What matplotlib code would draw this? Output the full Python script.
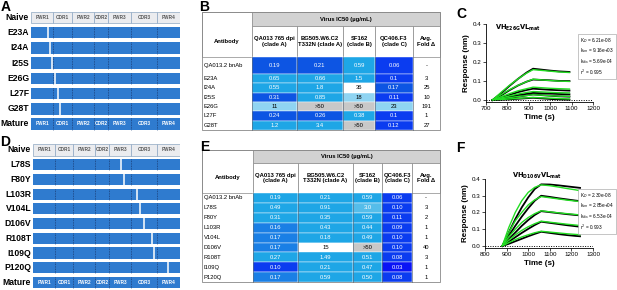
import numpy as np
import matplotlib
matplotlib.use('Agg')
import matplotlib.pyplot as plt
from matplotlib.colors import ListedColormap, BoundaryNorm, to_rgb
from matplotlib.patches import Rectangle

plt.rcParams['font.family'] = ['Liberation Sans', 'DejaVu Sans']

# ---- data ----
segments = ['FWR1', 'CDR1', 'FWR2', 'CDR2', 'FWR3', 'CDR3', 'FWR4']
seg_edges = [0, 15, 27.5, 42.5, 51.5, 67, 84.5, 100]   # % of VH length

mut_a = ['E23A', 'I24A', 'I25S', 'E26G', 'L27F', 'G28T']
pos_a = [11.4, 12.8, 14.1, 16.1, 18.1, 19.5]
mut_d = ['L78S', 'F80Y', 'L103R', 'V104L', 'D106V', 'R108T', 'I109Q', 'P120Q']
pos_d = [59.9, 61.9, 70.7, 72.8, 75.5, 81.0, 82.3, 91.8]

viruses = ['QA013 765 dpi\n(clade A)', 'BG505.W6.C2\nT332N (clade A)',
           'SF162\n(clade B)', 'QC406.F3\n(clade C)']

rows_b = ['QA013.2 bnAb'] + mut_a
ic50_b = [['0.19', '0.21', '0.59', '0.06'],
          ['0.65', '0.66', '1.5', '0.1'],
          ['0.55', '1.8', '36', '0.17'],
          ['0.31', '0.85', '18', '0.11'],
          ['11', '>50', '>50', '23'],
          ['0.24', '0.26', '0.38', '0.1'],
          ['1.2', '3.4', '>50', '0.12']]
fold_b = ['-', '3', '25', '10', '191', '1', '27']

rows_e = ['QA013.2 bnAb'] + mut_d
ic50_e = [['0.19', '0.21', '0.59', '0.06'],
          ['0.49', '0.91', '3.0', '0.10'],
          ['0.31', '0.35', '0.59', '0.11'],
          ['0.16', '0.43', '0.44', '0.09'],
          ['0.17', '0.18', '0.49', '0.10'],
          ['0.17', '15', '>50', '0.10'],
          ['0.27', '1.49', '0.51', '0.08'],
          ['0.10', '0.21', '0.47', '0.03'],
          ['0.17', '0.59', '0.50', '0.08']]
fold_e = ['-', '3', '2', '1', '1', '40', '3', '1', '1']

# BLI sensorgrams (response in nm)
t_c = [730, 770, 810, 850, 890, 920, 960, 1000, 1040, 1090]
fit_c = [[0, 0.040, 0.078, 0.112, 0.142, 0.160, 0.156, 0.152, 0.148, 0.145],
         [0, 0.028, 0.055, 0.078, 0.097, 0.110, 0.106, 0.103, 0.100, 0.098],
         [0, 0.017, 0.034, 0.049, 0.060, 0.068, 0.065, 0.062, 0.060, 0.058],
         [0, 0.011, 0.022, 0.032, 0.040, 0.045, 0.043, 0.041, 0.039, 0.038],
         [0, 0.007, 0.013, 0.019, 0.024, 0.028, 0.026, 0.023, 0.021, 0.020],
         [0, 0.003, 0.006, 0.009, 0.012, 0.014, 0.012, 0.010, 0.008, 0.006]]
raw_c = [[0, 0.035, 0.075, 0.112, 0.145, 0.165, 0.160, 0.155, 0.151, 0.148],
         [0, 0.024, 0.052, 0.077, 0.097, 0.108, 0.106, 0.104, 0.101, 0.100],
         [0, 0.012, 0.027, 0.042, 0.053, 0.060, 0.057, 0.054, 0.052, 0.050],
         [0, 0.008, 0.017, 0.026, 0.033, 0.038, 0.036, 0.034, 0.032, 0.030],
         [0, 0.005, 0.011, 0.018, 0.025, 0.030, 0.026, 0.023, 0.020, 0.018],
         [0, 0.002, 0.004, 0.007, 0.010, 0.012, 0.009, 0.006, 0.004, 0.002]]
kin_c = ['6.21e-08', '9.16e+03', '5.69e-04', '0.995']

t_f = [880, 910, 940, 970, 1000, 1030, 1060, 1100, 1140, 1180, 1220, 1240]
fit_f = [[0, 0.110, 0.200, 0.270, 0.320, 0.350, 0.365, 0.360, 0.352, 0.343, 0.335, 0.330],
         [0, 0.080, 0.150, 0.200, 0.245, 0.275, 0.295, 0.288, 0.281, 0.274, 0.268, 0.265],
         [0, 0.055, 0.100, 0.140, 0.170, 0.193, 0.210, 0.204, 0.198, 0.193, 0.188, 0.185],
         [0, 0.035, 0.066, 0.093, 0.115, 0.133, 0.148, 0.142, 0.136, 0.130, 0.125, 0.122],
         [0, 0.020, 0.038, 0.054, 0.067, 0.079, 0.088, 0.083, 0.078, 0.073, 0.069, 0.067]]
raw_f = [[0, 0.080, 0.160, 0.230, 0.290, 0.340, 0.368, 0.367, 0.362, 0.356, 0.350, 0.347],
         [0, 0.060, 0.120, 0.175, 0.225, 0.270, 0.300, 0.293, 0.285, 0.278, 0.271, 0.268],
         [0, 0.040, 0.080, 0.120, 0.155, 0.185, 0.208, 0.202, 0.196, 0.190, 0.185, 0.183],
         [0, 0.025, 0.052, 0.078, 0.102, 0.125, 0.145, 0.138, 0.131, 0.124, 0.118, 0.115],
         [0, 0.013, 0.028, 0.043, 0.058, 0.072, 0.085, 0.078, 0.071, 0.065, 0.060, 0.058]]
kin_f = ['2.30e-08', '2.85e+04', '6.53e-04', '0.993']

BLUE = '#2f7bcf'
fig = plt.figure(figsize=(6.17, 2.9), dpi=100)


def draw_scheme(rect, muts, pos):
    ax = fig.add_axes(rect)
    names = ['Naive'] + muts + ['Mature']
    h = 0.76
    for i, name in enumerate(names):
        y0 = i - h / 2
        if name == 'Naive':
            for k, s in enumerate(segments):
                ax.add_patch(Rectangle((seg_edges[k], y0), seg_edges[k + 1] - seg_edges[k], h,
                                       fc='#ebecef', ec='#8ea6c2', lw=0.5))
                ax.text((seg_edges[k] + seg_edges[k + 1]) / 2, i, s, ha='center', va='center',
                        fontsize=3.4, fontweight='bold', color='#555555')
        else:
            ax.add_patch(Rectangle((0, y0), 100, h, fc=BLUE, ec='none'))
            for e in seg_edges[1:-1]:
                ax.plot([e, e], [y0, y0 + h], color='#1a3f78', lw=0.6, ls=(0, (1, 1)))
            if name == 'Mature':
                for k, s in enumerate(segments):
                    ax.text((seg_edges[k] + seg_edges[k + 1]) / 2, i, s, ha='center', va='center',
                            fontsize=3.4, fontweight='bold', color='white')
            else:
                p = pos[muts.index(name)]
                ax.plot([p, p], [y0, y0 + h], color='white', lw=1.1, solid_capstyle='butt')
        ax.text(-1.3, i, name, ha='right', va='center', fontsize=6.2, fontweight='bold')
    ax.set_xlim(0, 100)
    ax.set_ylim(len(names) - 0.5, -0.5)
    ax.axis('off')


draw_scheme([31 / 617, 1 - 131.6 / 290, 149 / 617, 121.7 / 290], mut_a, pos_a)
draw_scheme([33 / 617, 0.0003, 147 / 617, 147.3 / 290], mut_d, pos_d)


def draw_kinetics(rect, t, fits, raws, xlim, xticks, ylim, title, tpos):
    ax = fig.add_axes(rect)
    for r in raws:
        ax.plot(t, r, color='black', lw=1.3)
    for f in fits:
        ax.plot(t, f, color='#22dd22', lw=1.0)
    ax.axhline(0, color='black', lw=0.7, ls=(0, (1, 1.5)))
    ax.set_xlim(*xlim)
    ax.set_ylim(*ylim)
    ax.set_xticks(xticks)
    ax.set_yticks([0, 0.1, 0.2, 0.3, 0.4])
    ax.tick_params(labelsize=4.5, length=2, width=0.5, pad=1)
    for s in ['top', 'right']:
        ax.spines[s].set_visible(False)
    for s in ['left', 'bottom']:
        ax.spines[s].set_linewidth(0.6)
    ax.set_xlabel('Time (s)', fontsize=5.8, fontweight='bold', labelpad=2)
    ax.set_ylabel('Response (nm)', fontsize=5.8, fontweight='bold', labelpad=2)
    ax.text(tpos[0], tpos[1], title, transform=ax.transAxes, ha='center', va='center',
            fontsize=4.8)
    return ax


draw_kinetics([486 / 617, 1 - 102 / 290, 107 / 617, 78 / 290], t_c, fit_c, raw_c,
              (700, 1200), [700, 800, 900, 1000, 1100, 1200], (-0.01, 0.4),
              r'$\mathbf{VH_{E26G}VL_{mat}}$', (0.30, 0.95))
draw_kinetics([485 / 617, 1 - 248 / 290, 108 / 617, 69 / 290], t_f, fit_f, raw_f,
              (800, 1300), [800, 900, 1000, 1100, 1200, 1300], (-0.012, 0.4),
              r'$\mathbf{VH_{D106V}VL_{mat}}$', (0.48, 1.04))

# overlay in pixel units for letters and tables
ov = fig.add_axes([0, 0, 1, 1])
ov.set_xlim(0, 617)
ov.set_ylim(290, 0)
ov.axis('off')

for lab, x, y in [('A', 1, 0), ('B', 199, 0), ('C', 456, 7),
                  ('D', 0, 135), ('E', 200, 140), ('F', 456, 141)]:
    ov.text(x, y, lab, fontsize=10, fontweight='bold', ha='left', va='top')

cmap_b = ListedColormap(['#0b3cf0', '#0d55e3', '#1ea6e6', '#8fd4f2', 'white']).with_extremes(over='#c8c8c8')
norm_b = BoundaryNorm([0, 0.15, 0.35, 10, 30, 50], cmap_b.N)
cmap_e = ListedColormap(['#0a14f5', '#0b3cf0', '#1a7fe5', '#1ea6e6', '#55bdea', 'white']).with_extremes(over='#c8c8c8')
norm_e = BoundaryNorm([0, 0.05, 0.12, 0.175, 2, 10, 50], cmap_e.N)


def draw_table(x0, widths, y0, band_h, head_h, row_hs, labels, vals, folds, cmap, norm):
    edges = x0 + np.concatenate([[0], np.cumsum(widths)])
    x1 = edges[-1]
    yh = y0 + band_h
    yb = yh + head_h
    fs = 4.2
    ov.add_patch(Rectangle((edges[1], y0), x1 - edges[1], band_h, fc='#d2d2d2', ec='#888888', lw=0.5))
    ov.text((edges[1] + x1) / 2, y0 + band_h / 2, 'Virus IC50 (µg/mL)', ha='center', va='center',
            fontsize=fs, fontweight='bold')
    ov.add_patch(Rectangle((x0, y0), widths[0], band_h + head_h, fc='white', ec='#888888', lw=0.5))
    ov.text(x0 + widths[0] / 2, yh + head_h / 2, 'Antibody', ha='center', va='center',
            fontsize=fs, fontweight='bold')
    heads = viruses + ['Avg.\nFold Δ']
    for j, hd in enumerate(heads):
        ov.add_patch(Rectangle((edges[j + 1], yh), widths[j + 1], head_h, fc='white', ec='#888888', lw=0.5))
        ov.text((edges[j + 1] + edges[j + 2]) / 2, yh + head_h / 2, hd, ha='center', va='center',
                fontsize=fs, fontweight='bold', linespacing=1.1)
    y = yb
    for i, lab in enumerate(labels):
        h = row_hs[i]
        ov.text(x0 + 2, y + h / 2, lab, ha='left', va='center', fontsize=fs)
        for j, s in enumerate(vals[i]):
            v = np.inf if s.startswith('>') else float(s)
            c = cmap(norm(v))
            ov.add_patch(Rectangle((edges[j + 1], y), widths[j + 1], h, fc=c, ec='white', lw=0.3))
            r, g, b = to_rgb(c)
            tc = 'white' if 0.299 * r + 0.587 * g + 0.114 * b < 0.7 else 'black'
            ov.text((edges[j + 1] + edges[j + 2]) / 2, y + h / 2, s, ha='center', va='center',
                    fontsize=fs, color=tc)
        ov.text((edges[-2] + x1) / 2, y + h / 2, folds[i], ha='center', va='center', fontsize=fs)
        y += h
    for e in edges[1:-1]:
        ov.plot([e, e], [yb, y], color='#445566', lw=0.4)
    ov.add_patch(Rectangle((x0, y0), x1 - x0, y - y0, fc='none', ec='#888888', lw=0.6))


draw_table(202, [50, 45, 46, 32, 38, 27], 12, 14, 31, [17] + [9.33] * 6,
           rows_b, ic50_b, fold_b, cmap_b, norm_b)
draw_table(202, [51, 45, 55, 29, 30, 28], 150, 13, 30, [9.9] * 9,
           rows_e, ic50_e, fold_e, cmap_e, norm_e)

kin_names = [r'K$_D$', r'k$_{on}$', r'k$_{dis}$', r'r$^2$']
for vals, yc in [(kin_c, 56.5), (kin_f, 211.5)]:
    txt = '\n'.join(n + ' = ' + v for n, v in zip(kin_names, vals))
    ov.text(580, yc, txt, ha='left', va='center', fontsize=3.4, linespacing=1.25,
            bbox=dict(boxstyle='square,pad=0.35', fc='white', ec='#999999', lw=0.4))

fig.savefig('out.png', dpi=100)
